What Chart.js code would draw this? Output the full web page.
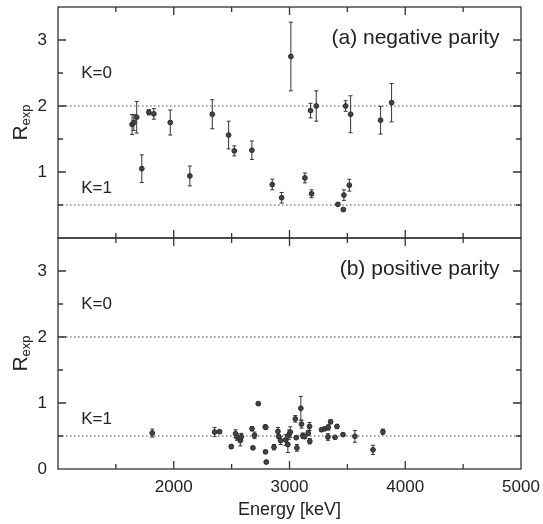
<!DOCTYPE html>
<html>
<head>
<meta charset="utf-8">
<script src="https://cdn.jsdelivr.net/npm/chart.js@4.4.0/dist/chart.umd.min.js"></script>
<style>
body { margin: 0; background: #fff; }
#wrap { position: relative; width: 543px; height: 524px; }
canvas { position: absolute; left: 0; }
#top-panel { top: 0; }
#bottom-panel { top: 233px; }
</style>
</head>
<body>
<div id="wrap">
  <canvas id="top-panel" width="543" height="243"></canvas>
  <canvas id="bottom-panel" width="543" height="291"></canvas>
</div>
<script>
// (a) negative parity - energy [keV], R_exp, error
let negEnergy = [1640, 1655, 1680, 1724, 1785, 1828, 1970, 2139, 2333, 2474, 2523, 2675, 2851, 2932,
  3012, 3133, 3182, 3191, 3231, 3418, 3465, 3470, 3485, 3517, 3528, 3787, 3882]
let negRatio = [1.72, 1.75, 1.83, 1.05, 1.905, 1.88, 1.75, 0.94, 1.875, 1.56, 1.32, 1.33, 0.81, 0.61,
  2.75, 0.91, 1.93, 0.67, 2.0, 0.51, 0.43, 0.65, 2.0, 0.80, 1.875, 1.785, 2.05]
let negError = [0.15, 0.12, 0.24, 0.21, 0.04, 0.08, 0.19, 0.15, 0.22, 0.21, 0.075, 0.14, 0.08, 0.08,
  0.52, 0.075, 0.11, 0.06, 0.23, 0.02, 0.02, 0.08, 0.08, 0.09, 0.28, 0.21, 0.29]

// (b) positive parity
let posEnergy = [1814, 2353, 2396, 2497, 2534, 2546, 2575, 2584, 2676, 2684, 2698, 2730, 2791, 2795,
  2793, 2799, 2866, 2900, 2908, 2923, 2966, 2986, 2995, 3007, 3050, 3058, 3064, 3098, 3104, 3115,
  3130, 3162, 3173, 3175, 3277, 3306, 3332, 3335, 3355, 3393, 3410, 3462, 3565, 3721, 3807]
let posRatio = [0.545, 0.56, 0.565, 0.34, 0.535, 0.485, 0.43, 0.49, 0.61, 0.32, 0.51, 0.99, 0.64, 0.63,
  0.26, 0.105, 0.33, 0.57, 0.49, 0.43, 0.44, 0.37, 0.52, 0.56, 0.76, 0.475, 0.32, 0.92, 0.68, 0.505,
  0.49, 0.545, 0.645, 0.42, 0.595, 0.61, 0.485, 0.63, 0.715, 0.48, 0.645, 0.52, 0.495, 0.29, 0.565]
let posError = [0.06, 0.07, 0.02, 0.03, 0.06, 0.05, 0.08, 0.05, 0.03, 0.02, 0.05, 0.02, 0.02, 0.02,
  0.02, 0.02, 0.04, 0.06, 0.03, 0.06, 0.08, 0.12, 0.07, 0.08, 0.05, 0.02, 0.05, 0.18, 0.06, 0.04,
  0.03, 0.04, 0.06, 0.04, 0.02, 0.02, 0.05, 0.04, 0.03, 0.02, 0.03, 0.02, 0.09, 0.07, 0.04]

let kLevels = [2, 0.5]           // K=0 and K=1 limits
let kNames = ["K=0", "K=1"]
let xLabelTicks = [2000, 3000, 4000, 5000]
let xFrameTicks = [1500, 2000, 2500, 3000, 3500, 4000, 4500]
let yFrameTicks = [0.5, 1, 1.5, 2, 2.5, 3]

const FONT = "'Liberation Sans', Arial, Helvetica, sans-serif"
Chart.defaults.font.family = FONT
Chart.defaults.color = "#222"

function points(xs, ys) {
  return xs.map((v, i) => ({ x: v, y: ys[i] }))
}

// error bars, frame with inward ticks, text labels
const panelDecor = {
  id: "panelDecor",
  beforeDatasetsDraw(chart) {
    let ctx = chart.ctx
    let xs = chart.scales.x, ys = chart.scales.y
    chart.data.datasets.forEach(ds => {
      if (!ds.errors) return
      ctx.save()
      ctx.strokeStyle = "#333"
      ctx.lineWidth = 1
      ds.data.forEach((p, i) => {
        let px = xs.getPixelForValue(p.x)
        let t = ys.getPixelForValue(p.y + ds.errors[i])
        let b = ys.getPixelForValue(p.y - ds.errors[i])
        ctx.beginPath()
        ctx.moveTo(px, t); ctx.lineTo(px, b)
        ctx.moveTo(px - 2, t); ctx.lineTo(px + 2, t)
        ctx.moveTo(px - 2, b); ctx.lineTo(px + 2, b)
        ctx.stroke()
      })
      ctx.restore()
    })
  },
  afterDraw(chart, args, opts) {
    let ctx = chart.ctx
    let a = chart.chartArea
    let xs = chart.scales.x, ys = chart.scales.y
    ctx.save()
    ctx.strokeStyle = "#333"
    ctx.lineWidth = 1.3
    ctx.strokeRect(a.left, a.top, a.right - a.left, a.bottom - a.top)
    ctx.beginPath()
    xFrameTicks.forEach(v => {
      let px = xs.getPixelForValue(v)
      let len = v % 1000 === 0 ? 8 : 5
      ctx.moveTo(px, a.top); ctx.lineTo(px, a.top + len)
      ctx.moveTo(px, a.bottom); ctx.lineTo(px, a.bottom - len)
    })
    yFrameTicks.forEach(v => {
      let py = ys.getPixelForValue(v)
      let len = v % 1 === 0 ? 8 : 5
      ctx.moveTo(a.left, py); ctx.lineTo(a.left + len, py)
      ctx.moveTo(a.right, py); ctx.lineTo(a.right - len, py)
    })
    ctx.stroke()

    // K labels
    ctx.fillStyle = "#222"
    ctx.textBaseline = "middle"
    ctx.textAlign = "left"
    ctx.font = "17px " + FONT
    kNames.forEach((name, i) => {
      ctx.fillText(name, xs.getPixelForValue(1200), ys.getPixelForValue(opts.kTextY[i]))
    })

    // panel title
    ctx.textAlign = "right"
    ctx.font = "21px " + FONT
    ctx.fillText(opts.title, xs.getPixelForValue(4815), ys.getPixelForValue(3.03))

    // y title R_exp
    let mid = (a.top + a.bottom) / 2
    ctx.save()
    ctx.translate(27, mid)
    ctx.rotate(-Math.PI / 2)
    ctx.textBaseline = "alphabetic"
    ctx.textAlign = "left"
    ctx.font = "21px " + FONT
    let wR = ctx.measureText("R").width
    ctx.font = "13px " + FONT
    let wS = ctx.measureText("exp").width
    let start = -(wR + wS) / 2
    ctx.font = "21px " + FONT
    ctx.fillText("R", start, 0)
    ctx.font = "13px " + FONT
    ctx.fillText("exp", start + wR, 3)
    ctx.restore()
    ctx.restore()
  }
}

function levelSets() {
  return kLevels.map(lv => ({
    type: "line",
    data: [{ x: 1000, y: lv }, { x: 5000, y: lv }],
    borderColor: "#444",
    borderWidth: 1,
    borderDash: [1.5, 2.5],
    pointRadius: 0
  }))
}

function makePanel(id, xs, ys, errs, opts) {
  let ctx = document.getElementById(id).getContext("2d")
  return new Chart(ctx, {
    type: "scatter",
    data: {
      datasets: levelSets().concat([{
        data: points(xs, ys),
        errors: errs,
        pointRadius: 2.4,
        pointBackgroundColor: "#444",
        pointBorderColor: "#2a2a2a",
        pointBorderWidth: 1
      }])
    },
    options: {
      responsive: false,
      animation: false,
      devicePixelRatio: 1,
      layout: { padding: opts.padding },
      plugins: {
        legend: { display: false },
        tooltip: { enabled: false },
        panelDecor: { title: opts.title, kTextY: [2.5, 0.76] }
      },
      scales: {
        x: {
          type: "linear",
          min: 1000,
          max: 5000,
          display: opts.showX,
          grid: { display: false },
          border: { display: false },
          afterBuildTicks: s => { s.ticks = xLabelTicks.map(v => ({ value: v })) },
          afterFit: s => {
            s.height = opts.showX ? 55 : 0
            s.paddingLeft = 0
            s.paddingRight = 0
          },
          ticks: {
            autoSkip: false, maxRotation: 0, padding: 0,
            font: { size: 17 }, color: "#222",
            callback: v => String(v)
          },
          title: {
            display: true,
            text: "Energy [keV]",
            font: { size: 18 },
            color: "#222",
            padding: { top: 3, bottom: 3 }
          }
        },
        y: {
          min: 0,
          max: 3.5,
          grid: { display: false },
          border: { display: false },
          afterBuildTicks: s => { s.ticks = opts.yTicks.map(v => ({ value: v })) },
          afterFit: s => {
            s.width = 58
            s.paddingTop = 0
            s.paddingBottom = 0
          },
          ticks: { padding: 3, font: { size: 17 }, color: "#222", callback: v => String(v) }
        }
      }
    },
    plugins: [panelDecor]
  })
}

// the layout keeps ~5px at the axis ends, the canvases overlap to share the middle border
makePanel("top-panel", negEnergy, negRatio, negError, {
  title: "(a) negative parity",
  showX: false,
  yTicks: [1, 2, 3],
  padding: { top: 7, right: 22, bottom: 2, left: 0 }
})

makePanel("bottom-panel", posEnergy, posRatio, posError, {
  title: "(b) positive parity",
  showX: true,
  yTicks: [0, 1, 2, 3],
  padding: { top: 1, right: 22, bottom: 0, left: 0 }
})
</script>
</body>
</html>
